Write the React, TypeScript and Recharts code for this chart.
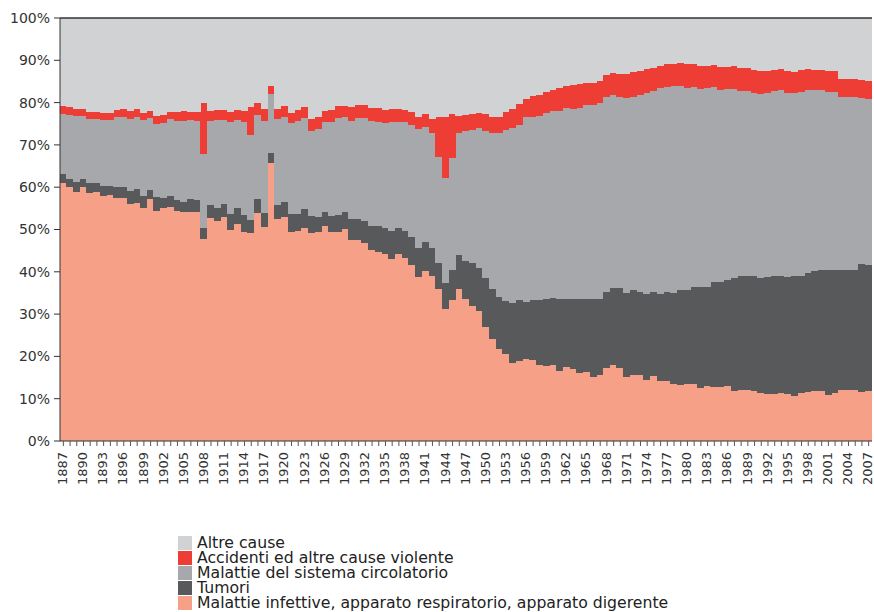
import { BarChart, Bar, XAxis, YAxis, ReferenceLine } from 'recharts';

const YEARS = Array.from({ length: 121 }, (_, i) => 1887 + i);

const INFETTIVE = [
  61.1, 60.0, 58.9, 60.0, 58.6, 58.9, 58.0, 58.2, 57.5, 57.5,
  56.0, 56.3, 55.2, 57.1, 54.4, 55.0, 55.4, 54.4, 54.1, 54.1,
  54.1, 47.7, 52.8, 51.9, 52.9, 50.0, 51.3, 49.3, 49.1, 53.8,
  50.5, 65.7, 52.4, 53.0, 49.5, 49.7, 50.4, 49.2, 49.5, 50.9,
  49.5, 49.5, 50.1, 47.6, 47.6, 46.9, 45.1, 44.6, 44.3, 43.0,
  44.3, 43.3, 41.6, 38.8, 40.2, 39.0, 36.0, 31.3, 33.4, 35.9,
  33.5, 31.9, 30.7, 27.0, 24.1, 21.8, 20.6, 18.4, 18.9, 19.3,
  19.1, 18.0, 17.8, 18.0, 16.6, 17.5, 17.0, 16.1, 16.3, 15.2,
  15.6, 17.2, 18.0, 17.2, 15.2, 15.6, 15.6, 14.4, 15.3, 14.1,
  14.1, 13.4, 13.2, 13.4, 13.4, 12.5, 13.0, 12.7, 12.7, 13.0,
  11.8, 12.1, 12.1, 11.8, 11.3, 11.1, 11.1, 11.3, 11.1, 10.6,
  11.3, 11.6, 11.8, 11.8, 10.8, 11.3, 12.1, 12.1, 12.1, 11.6,
  11.8,
];

const TUMORI = [
  2.0, 1.9, 2.3, 1.9, 2.3, 2.2, 2.4, 2.2, 2.6, 2.6,
  3.1, 3.3, 2.7, 2.3, 3.4, 2.5, 2.5, 2.6, 2.5, 3.1,
  2.9, 2.6, 3.0, 3.3, 3.1, 3.6, 3.7, 4.1, 3.1, 3.4,
  3.5, 2.3, 3.4, 3.6, 4.2, 4.0, 4.5, 4.0, 3.5, 3.2,
  3.8, 4.0, 4.0, 4.9, 4.9, 5.0, 5.8, 6.3, 6.1, 6.6,
  6.1, 6.3, 6.7, 6.8, 6.8, 6.6, 6.1, 6.1, 7.0, 8.1,
  9.0, 10.1, 10.2, 11.5, 11.8, 12.2, 12.5, 14.2, 14.4, 13.5,
  14.2, 15.3, 15.7, 15.8, 16.9, 16.0, 16.5, 17.5, 17.2, 18.3,
  18.0, 18.0, 18.1, 18.9, 19.8, 20.1, 19.6, 20.3, 19.9, 20.6,
  21.1, 21.6, 22.5, 22.3, 23.0, 23.9, 23.4, 24.9, 24.9, 25.0,
  26.7, 26.9, 27.0, 27.3, 27.2, 27.6, 27.9, 27.8, 27.6, 28.4,
  27.7, 28.1, 28.4, 28.6, 29.6, 29.1, 28.3, 28.3, 28.3, 30.2,
  29.8,
];

const CIRCOLATORIO = [
  14.2, 15.2, 15.7, 15.0, 15.2, 15.0, 15.4, 15.4, 16.6, 16.6,
  17.0, 16.9, 17.9, 16.9, 17.1, 17.7, 18.2, 18.6, 19.0, 18.6,
  18.6, 17.6, 19.8, 20.7, 19.9, 21.8, 20.8, 22.0, 20.1, 19.9,
  21.6, 14.1, 20.3, 20.1, 21.5, 21.9, 21.4, 20.2, 20.7, 21.2,
  22.0, 22.8, 22.4, 23.1, 23.8, 24.4, 24.7, 24.4, 24.7, 25.7,
  24.9, 25.7, 26.4, 28.1, 27.3, 27.2, 25.0, 24.7, 26.4, 28.8,
  30.7, 31.6, 33.2, 34.9, 37.0, 38.7, 40.5, 41.3, 41.5, 43.7,
  43.4, 43.6, 44.1, 44.3, 44.4, 45.3, 45.1, 45.2, 46.0, 46.0,
  46.2, 46.2, 45.7, 45.3, 46.0, 45.7, 46.6, 47.6, 47.6, 48.8,
  48.5, 49.0, 48.3, 47.8, 47.3, 46.9, 47.1, 46.1, 45.4, 45.3,
  44.8, 43.8, 43.7, 43.2, 43.6, 43.6, 43.8, 43.9, 43.6, 43.3,
  43.6, 43.3, 42.8, 42.6, 42.2, 42.2, 41.0, 41.0, 41.0, 39.3,
  39.3,
];

const ACCIDENTI = [
  1.9, 1.8, 1.6, 1.6, 1.6, 1.6, 1.7, 1.7, 1.6, 1.8,
  2.0, 2.0, 1.7, 1.8, 1.9, 1.9, 1.6, 2.1, 2.5, 1.9,
  2.1, 12.0, 2.3, 2.4, 2.4, 2.3, 2.5, 2.7, 6.7, 2.8,
  2.8, 1.9, 2.3, 2.5, 2.3, 2.7, 2.6, 2.8, 3.0, 2.8,
  3.0, 2.9, 2.7, 3.4, 3.1, 3.1, 3.2, 3.5, 3.2, 3.2,
  3.2, 3.0, 3.1, 3.0, 3.0, 3.4, 9.5, 14.5, 10.5, 4.0,
  3.9, 3.7, 3.5, 3.9, 3.7, 3.9, 4.2, 4.6, 4.9, 4.4,
  4.9, 4.9, 4.9, 4.9, 5.6, 5.2, 5.6, 5.6, 5.2, 5.2,
  5.4, 5.2, 5.2, 5.4, 5.8, 5.9, 5.7, 5.7, 5.4, 5.2,
  5.5, 5.2, 5.4, 5.7, 5.5, 5.4, 5.2, 5.3, 5.5, 5.2,
  5.4, 5.4, 5.4, 5.5, 5.4, 5.2, 5.0, 5.0, 5.2, 5.0,
  5.2, 5.0, 4.8, 4.8, 4.9, 4.9, 4.2, 4.2, 4.2, 4.3,
  4.3,
];

const ALTRE = [
  20.8, 21.1, 21.5, 21.5, 22.3, 22.3, 22.5, 22.5, 21.7, 21.5,
  21.9, 21.5, 22.5, 21.9, 23.2, 22.9, 22.3, 22.3, 21.9, 22.3,
  22.3, 20.1, 22.1, 21.7, 21.7, 22.3, 21.7, 21.9, 21.0, 20.1,
  21.6, 16.0, 21.6, 20.8, 22.5, 21.7, 21.1, 23.8, 23.3, 21.9,
  21.7, 20.8, 20.8, 21.0, 20.6, 20.6, 21.2, 21.2, 21.7, 21.5,
  21.5, 21.7, 22.2, 23.3, 22.7, 23.8, 23.4, 23.4, 22.7, 23.2,
  22.9, 22.7, 22.4, 22.7, 23.4, 23.4, 22.2, 21.5, 20.3, 19.1,
  18.4, 18.2, 17.5, 17.0, 16.5, 16.0, 15.8, 15.6, 15.3, 15.3,
  14.8, 13.4, 13.0, 13.2, 13.2, 12.7, 12.5, 12.0, 11.8, 11.3,
  10.8, 10.8, 10.6, 10.8, 10.8, 11.3, 11.3, 11.0, 11.5, 11.5,
  11.3, 11.8, 11.8, 12.2, 12.5, 12.5, 12.2, 12.0, 12.5, 12.7,
  12.2, 12.0, 12.2, 12.2, 12.5, 12.5, 14.4, 14.4, 14.4, 14.6,
  14.8,
];

const Y_TICKS = [0, 10, 20, 30, 40, 50, 60, 70, 80, 90, 100];

const SERIES = [
  { key: 'infettive', name: 'Malattie infettive, apparato respiratorio, apparato digerente', color: '#f6a088' },
  { key: 'tumori', name: 'Tumori', color: '#58595b' },
  { key: 'circolatorio', name: 'Malattie del sistema circolatorio', color: '#a7a8ac' },
  { key: 'accidenti', name: 'Accidenti ed altre cause violente', color: '#ee3d34' },
  { key: 'altre', name: 'Altre cause', color: '#d1d2d4' },
];

const data = YEARS.map((year, i) => ({
  year,
  infettive: INFETTIVE[i],
  tumori: TUMORI[i],
  circolatorio: CIRCOLATORIO[i],
  accidenti: ACCIDENTI[i],
  altre: ALTRE[i],
}));

const FONT = '"DejaVu Sans", Verdana, sans-serif';

function YearTick(props: any) {
  const { x, y, payload } = props;
  if (payload.index % 3 !== 0) return null;
  const tx = x - 1;
  const ty = y + 4;
  return (
    <text
      x={tx}
      y={ty}
      transform={`rotate(-90, ${tx}, ${ty})`}
      textAnchor="end"
      dy="0.36em"
      fontSize={13}
      fill="#333"
      fontFamily={FONT}
    >
      {payload.value}
    </text>
  );
}

// crisp, slightly widened rects so neighbouring bars leave no hairline seams
function makeShape(color: string) {
  return (p: any) => (
    <rect
      x={p.x - 0.5}
      y={p.y}
      width={p.width + 1}
      height={Math.max(p.height, 0)}
      fill={color}
      shapeRendering="crispEdges"
    />
  );
}

export default function App() {
  const barSize = 812 / YEARS.length;
  return (
    <div style={{ position: 'absolute', left: 0, top: 0, width: 874, height: 612, fontFamily: FONT }}>
      <BarChart
        width={874}
        height={612}
        data={data}
        margin={{ top: 18, right: 0, bottom: 0, left: 0 }}
        barCategoryGap={0}
        barGap={0}
      >
        {SERIES.map((s) => (
          <Bar
            key={s.key}
            yAxisId="left"
            dataKey={s.key}
            name={s.name}
            stackId="a"
            fill={s.color}
            barSize={barSize}
            shape={makeShape(s.color)}
            isAnimationActive={false}
          />
        ))}
        <XAxis
          dataKey="year"
          interval={0}
          height={171}
          tick={<YearTick />}
          tickSize={5}
          stroke="#333"
          tickLine={{ stroke: '#555' }}
        />
        <YAxis
          yAxisId="left"
          domain={[0, 100]}
          ticks={Y_TICKS}
          width={60}
          tickSize={6}
          tickMargin={4}
          stroke="#333"
          tickFormatter={(v) => `${v}%`}
          tick={{ fill: '#333', fontSize: 14, fontFamily: FONT }}
        />
        <YAxis
          yAxisId="right"
          orientation="right"
          domain={[0, 100]}
          ticks={Y_TICKS}
          width={2}
          tickSize={3}
          axisLine={false}
          tick={false}
          stroke="#333"
        />
        <ReferenceLine yAxisId="left" y={100} stroke="#333" strokeWidth={1.5} />
      </BarChart>
      <div style={{ position: 'absolute', left: 178, top: 535, fontSize: 15.7, lineHeight: '15px', color: '#222' }}>
        {[...SERIES].reverse().map((s) => (
          <div key={s.key} style={{ display: 'flex', alignItems: 'center', height: 15 }}>
            <span style={{ display: 'inline-block', width: 14, height: 14, background: s.color, marginRight: 5, flexShrink: 0 }} />
            <span style={{ whiteSpace: 'nowrap' }}>{s.name}</span>
          </div>
        ))}
      </div>
    </div>
  );
}
